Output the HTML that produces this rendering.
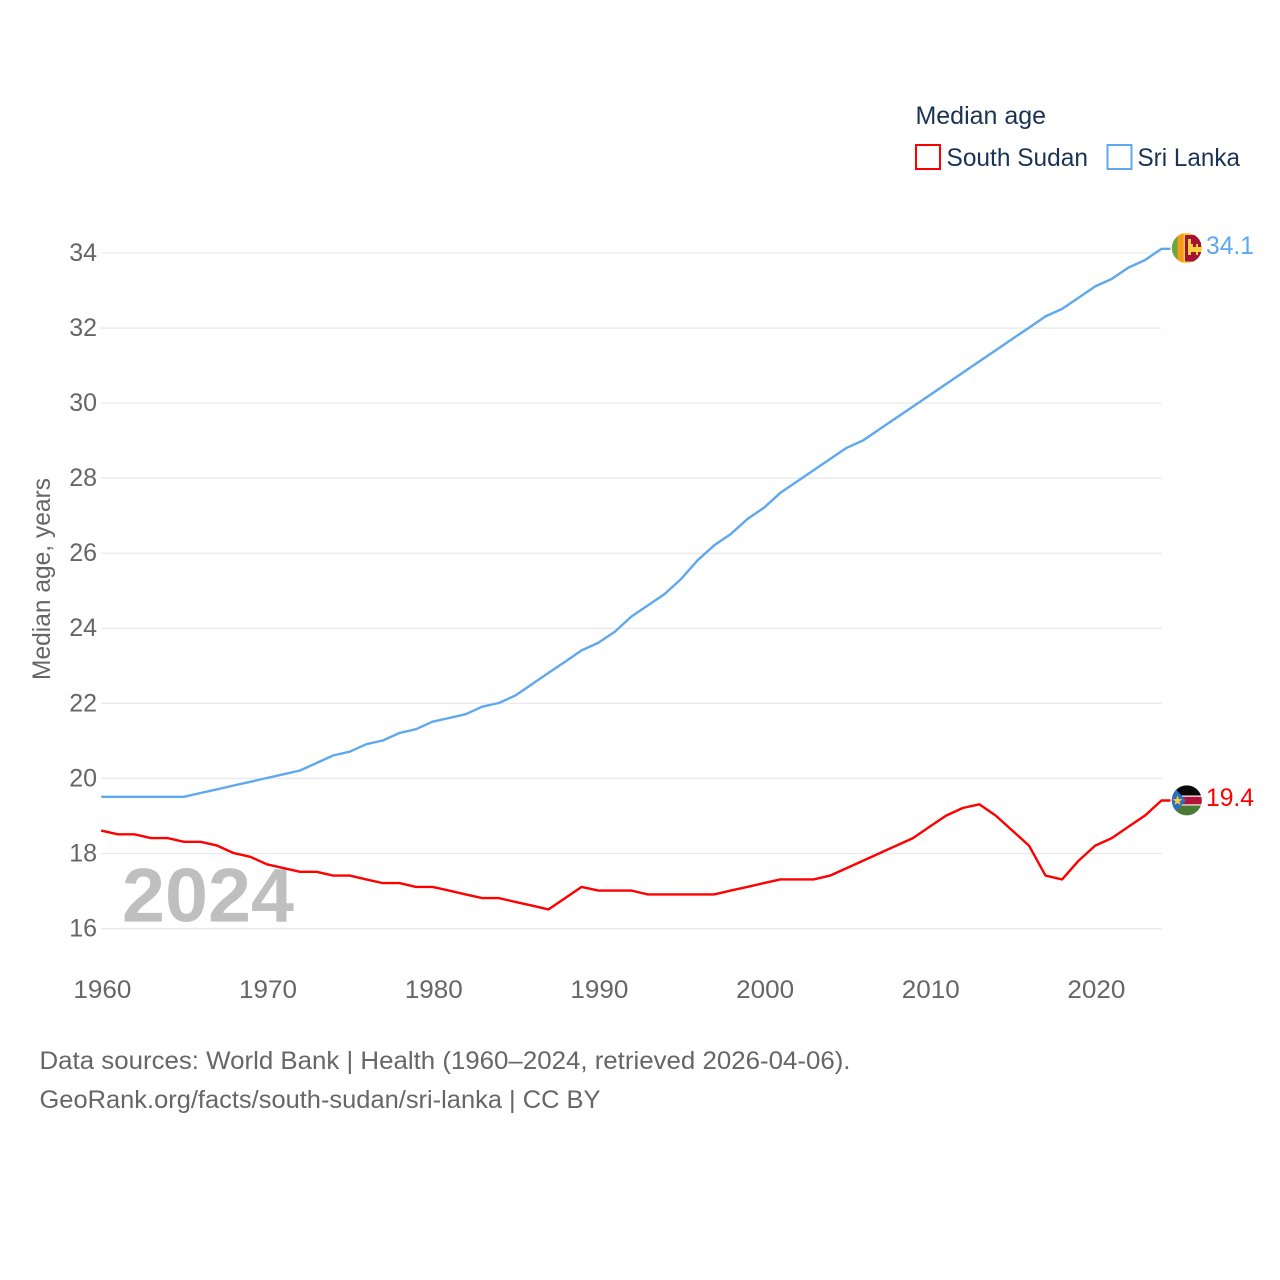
<!DOCTYPE html>
<html lang="en">
<head>
<meta charset="utf-8">
<title>Median age: South Sudan and Sri Lanka</title>
<style>
html,body{margin:0;padding:0;background:#fff;width:1280px;height:1280px;overflow:hidden}
svg{display:block}
text{font-family:"Liberation Sans",sans-serif}
.tick{font-size:25px;fill:#666}
.legend{font-size:25px;fill:#1a3352}
.foot{font-size:25px;fill:#666}
</style>
</head>
<body>
<svg id="chart" xmlns="http://www.w3.org/2000/svg" width="1280" height="1280" viewBox="0 0 1280 1280">
  <defs>
    <clipPath id="clip-lk"><circle cx="1186.8" cy="248" r="15"/></clipPath>
    <clipPath id="clip-ss"><circle cx="1186.8" cy="800.4" r="15"/></clipPath>
  </defs>
  <rect width="1280" height="1280" fill="#fff"/>

  <g id="grid"></g>
  <g id="yticks"></g>
  <g id="xticks"></g>

  <text class="tick" transform="translate(50,680) rotate(-90)" textLength="202" lengthAdjust="spacingAndGlyphs">Median age, years</text>

  <g id="series"></g>

  <text x="122" y="921.500" font-size="76" font-weight="bold" fill="#000" fill-opacity="0.25" textLength="172" lengthAdjust="spacingAndGlyphs">2024</text>

  <g>
    <text class="legend" x="915.500" y="124.200" textLength="130.500" lengthAdjust="spacingAndGlyphs">Median age</text>
    <g>
      <rect x="916" y="145" width="24" height="24" fill="#fff" stroke="#f00" stroke-width="2"/>
      <text class="legend" x="946.500" y="166.200" textLength="141.500" lengthAdjust="spacingAndGlyphs">South Sudan</text>
    </g>
    <g>
      <rect x="1107.500" y="145" width="24" height="24" fill="#fff" stroke="#5fa8ee" stroke-width="2"/>
      <text class="legend" x="1137.500" y="166.200" textLength="102.500" lengthAdjust="spacingAndGlyphs">Sri Lanka</text>
    </g>
  </g>

  <g clip-path="url(#clip-lk)">
    <rect x="1171" y="232" width="32" height="32" fill="#f9cf3f"/>
    <rect x="1171" y="232" width="6.800" height="32" fill="#6fa63c"/>
    <rect x="1177.800" y="232" width="5.800" height="32" fill="#f79a1a"/>
    <rect x="1185" y="235" width="16" height="26.500" fill="#a3123a"/>
    <path d="M1188 239h3v5h2v3h3v-3h2v3h4v5h-4v3h-2v-3h-5v3h-3z" fill="#f9cf3f"/>
  </g>
  <g clip-path="url(#clip-ss)">
    <rect x="1171" y="785" width="32" height="10.500" fill="#0a0a0a"/>
    <rect x="1171" y="795.500" width="32" height="10" fill="#f2f2f2"/>
    <rect x="1171" y="796.800" width="32" height="7.500" fill="#b5123a"/>
    <rect x="1171" y="805.500" width="32" height="11" fill="#4a7a35"/>
    <polygon points="1171,784 1186,800.400 1171,817" fill="#2a6fc0"/>
    <polygon points="1177.500,795.500 1178.800,799 1182.500,799.200 1179.600,801.400 1180.600,805 1177.500,803 1174.500,805 1175.500,801.400 1172.600,799.200 1176.200,799" fill="#f5cf3f"/>
  </g>

  <text x="1206" y="254.200" font-size="25" fill="#5fa8ee" textLength="48" lengthAdjust="spacingAndGlyphs">34.1</text>
  <text x="1206" y="806.200" font-size="25" fill="#f00" textLength="48" lengthAdjust="spacingAndGlyphs">19.4</text>

  <text class="foot" x="39.500" y="1069" textLength="811" lengthAdjust="spacingAndGlyphs">Data sources: World Bank | Health (1960–2024, retrieved 2026-04-06).</text>
  <text class="foot" x="39.500" y="1108" textLength="561" lengthAdjust="spacingAndGlyphs">GeoRank.org/facts/south-sudan/sri-lanka | CC BY</text>
</svg>
<script>
const startYear = 1960;
const yTickValues = [16, 18, 20, 22, 24, 26, 28, 30, 32, 34];
const xTickValues = [1960, 1970, 1980, 1990, 2000, 2010, 2020];
const sriLankaValues = [19.5,19.5,19.5,19.5,19.5,19.5,19.6,19.7,19.8,19.9,20.0,20.1,20.2,20.4,20.6,20.7,20.9,21.0,21.2,21.3,21.5,21.6,21.7,21.9,22.0,22.2,22.5,22.8,23.1,23.4,23.6,23.9,24.3,24.6,24.9,25.3,25.8,26.2,26.5,26.9,27.2,27.6,27.9,28.2,28.5,28.8,29.0,29.3,29.6,29.9,30.2,30.5,30.8,31.1,31.4,31.7,32.0,32.3,32.5,32.8,33.1,33.3,33.6,33.8,34.1];
const southSudanValues = [18.6,18.5,18.5,18.4,18.4,18.3,18.3,18.2,18.0,17.9,17.7,17.6,17.5,17.5,17.4,17.4,17.3,17.2,17.2,17.1,17.1,17.0,16.9,16.8,16.8,16.7,16.6,16.5,16.8,17.1,17.0,17.0,17.0,16.9,16.9,16.9,16.9,16.9,17.0,17.1,17.2,17.3,17.3,17.3,17.4,17.6,17.8,18.0,18.2,18.4,18.7,19.0,19.2,19.3,19.0,18.6,18.2,17.4,17.3,17.8,18.2,18.4,18.7,19.0,19.4];

const NS = 'http://www.w3.org/2000/svg';
function xScale(year) { return 101.2 + (year - 1960) * 16.567; }
function yScale(v) { return 252.6 + (34 - v) * 37.53; }
const plotRight = xScale(2024);

const grid = document.getElementById('grid');
const yticks = document.getElementById('yticks');
const xticks = document.getElementById('xticks');
const series = document.getElementById('series');

yTickValues.forEach(function (v) {
  const line = document.createElementNS(NS, 'line');
  
  
  line.setAttribute('x1', xScale(1960));
  line.setAttribute('x2', plotRight);
  line.setAttribute('y1', yScale(v) + 0.4);
  line.setAttribute('y2', yScale(v) + 0.4);
  line.setAttribute('stroke', '#e9e9e9');
  line.setAttribute('stroke-width', '1.3');
  grid.appendChild(line);

  const t = document.createElementNS(NS, 'text');
  
  
  t.setAttribute('class', 'tick');
  t.setAttribute('x', 97);
  t.setAttribute('y', yScale(v) + 8.3);
  t.setAttribute('text-anchor', 'end');
  t.textContent = v;
  yticks.appendChild(t);
});

xTickValues.forEach(function (yr) {
  const t = document.createElementNS(NS, 'text');
  
  
  t.setAttribute('class', 'tick');
  t.setAttribute('x', xScale(yr) + 1.2);
  t.setAttribute('y', 998);
  t.setAttribute('text-anchor', 'middle');
  t.setAttribute('textLength', '58');
  t.setAttribute('lengthAdjust', 'spacingAndGlyphs');
  t.textContent = yr;
  xticks.appendChild(t);
});

function linePoints(values) {
  const pts = values.map(function (v, i) {
    return xScale(startYear + i).toFixed(1) + ',' + yScale(v).toFixed(1);
  });
  pts.push((plotRight + 9).toFixed(1) + ',' + yScale(values[values.length - 1]).toFixed(1));
  return pts.join(' ');
}

const lineSouthSudan = document.createElementNS(NS, 'polyline');


lineSouthSudan.setAttribute('points', linePoints(southSudanValues));
lineSouthSudan.setAttribute('fill', 'none');
lineSouthSudan.setAttribute('stroke', '#f00');
lineSouthSudan.setAttribute('stroke-width', '2.4');
lineSouthSudan.setAttribute('stroke-linejoin', 'round');
series.appendChild(lineSouthSudan);

const lineSriLanka = document.createElementNS(NS, 'polyline');


lineSriLanka.setAttribute('points', linePoints(sriLankaValues));
lineSriLanka.setAttribute('fill', 'none');
lineSriLanka.setAttribute('stroke', '#5fa8ee');
lineSriLanka.setAttribute('stroke-width', '2.4');
lineSriLanka.setAttribute('stroke-linejoin', 'round');
series.appendChild(lineSriLanka);
</script>
</body>
</html>
